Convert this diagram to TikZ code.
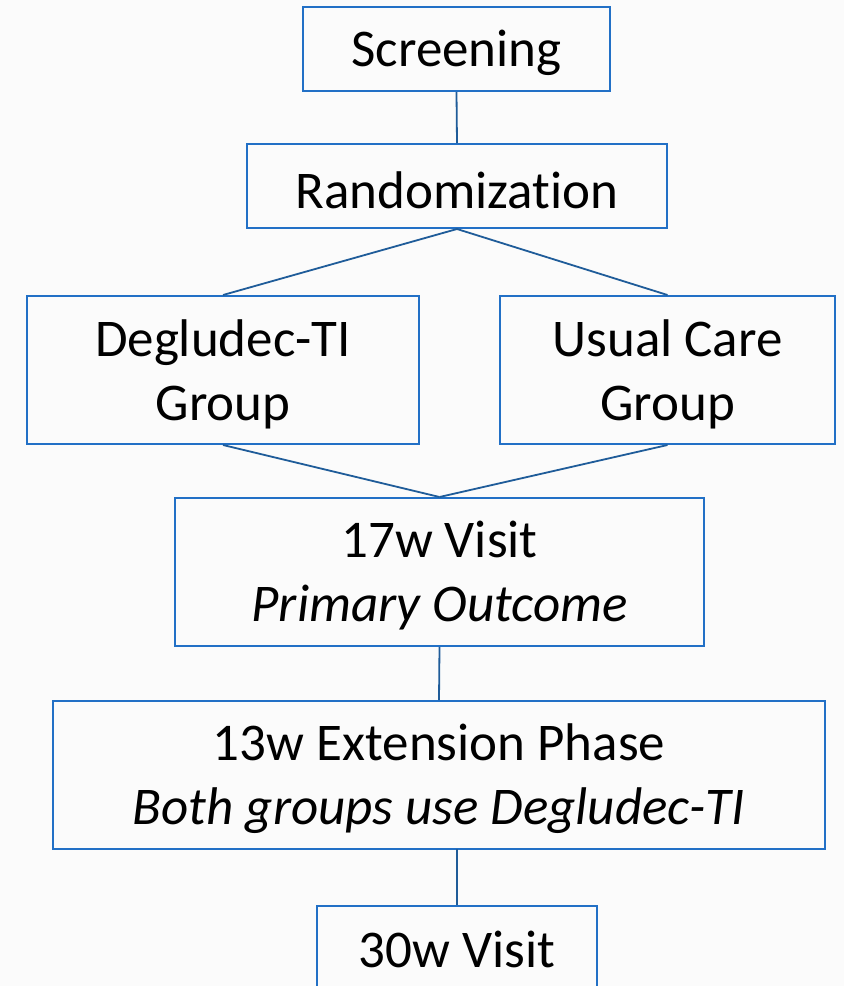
\documentclass[tikz,border=0pt]{standalone}
\usepackage{fontspec}
\setmainfont[RawFeature=-liga]{Carlito}
\definecolor{bg}{HTML}{FBFBFB}
\definecolor{boxblue}{HTML}{2270C6}
\definecolor{lineblue}{HTML}{1F5C99}
\begin{document}
\begin{tikzpicture}[x=1pt,y=-1pt,
  stagebox/.style={draw=boxblue, line width=2pt, inner sep=0pt},
  stagetext/.style={align=center, inner sep=0pt, font=\fontsize{53}{64}\selectfont, text=black},
  link/.style={draw=lineblue, line width=1.8pt}]
\fill[bg] (0,0) rectangle (844,986);
\useasboundingbox (0,0) rectangle (844,986);
\node[stagebox, minimum width=307pt, minimum height=84pt] (scr) at (456.5,49) {};
\node[stagebox, minimum width=420pt, minimum height=84pt] (rand) at (457,186) {};
\node[stagebox, minimum width=392pt, minimum height=148pt] (deg) at (223,370) {};
\node[stagebox, minimum width=335pt, minimum height=148pt] (usual) at (667.5,370) {};
\node[stagebox, minimum width=529pt, minimum height=148pt] (v17) at (439.5,572) {};
\node[stagebox, minimum width=772pt, minimum height=148pt] (ext) at (439,775) {};
\node[stagebox, minimum width=280pt, minimum height=90pt, anchor=north] (v30) at (457,905) {};
\node[stagetext] (scrt) at ([yshift=-4pt]scr.center) {Screening};
\node[stagetext] (randt) at ([yshift=-4pt]rand.center) {Randomization};
\node[stagetext] (degt) at ([yshift=-4pt]deg.center) {Degludec-TI\\Group};
\node[stagetext] (usualt) at ([yshift=-4pt]usual.center) {Usual Care\\Group};
\node[stagetext] (v17t) at ([yshift=-4pt]v17.center) {17w Visit\\\textit{Primary Outcome}};
\node[stagetext] (extt) at ([yshift=-4pt]ext.center) {13w Extension Phase\\\textit{Both groups use Degludec-TI}};
\node[stagetext] (v30t) at (457,949) {30w Visit};
\coordinate (extb) at (457,849);
\draw[link] (scr.south) -- (rand.north);
\draw[link] (rand.south) -- (deg.north);
\draw[link] (rand.south) -- (usual.north);
\draw[link] (deg.south) -- (v17.north);
\draw[link] (usual.south) -- (v17.north);
\draw[link] (v17.south) -- (ext.north);
\draw[link] (extb) -- (v30.north);
\end{tikzpicture}
\end{document}
